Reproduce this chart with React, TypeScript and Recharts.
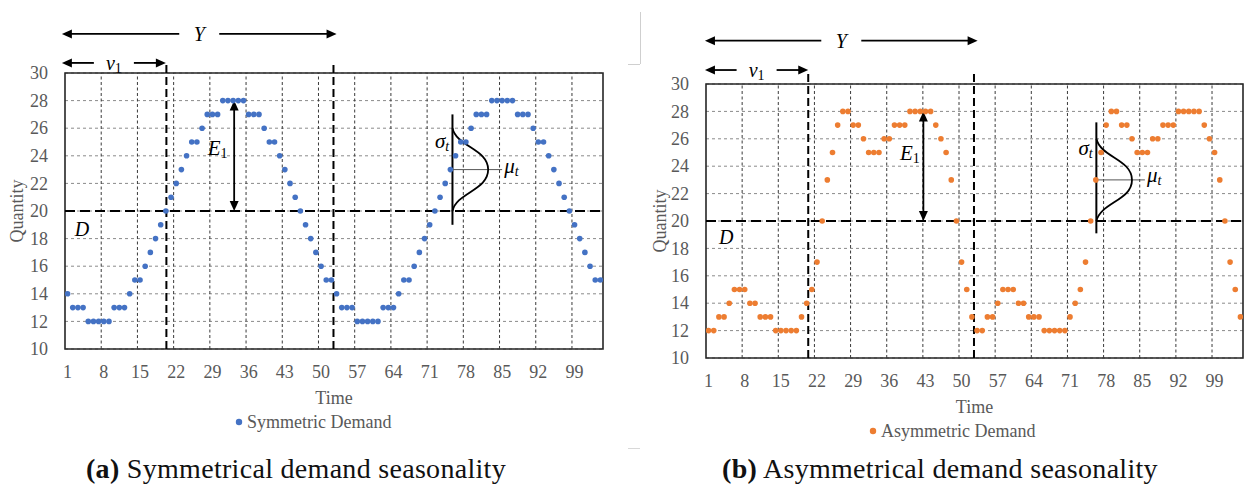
import React from 'react';
import {
  ScatterChart,
  Scatter,
  XAxis,
  YAxis,
  CartesianGrid,
  ReferenceLine,
  ReferenceArea,
  ReferenceDot,
  Legend,
} from 'recharts';

// ---------------- DATA ----------------
const timePeriods = [
  1, 2, 3, 4, 5, 6, 7, 8, 9, 10, 11, 12, 13, 14, 15, 16, 17, 18, 19, 20,
  21, 22, 23, 24, 25, 26, 27, 28, 29, 30, 31, 32, 33, 34, 35, 36, 37, 38, 39, 40,
  41, 42, 43, 44, 45, 46, 47, 48, 49, 50, 51, 52, 53, 54, 55, 56, 57, 58, 59, 60,
  61, 62, 63, 64, 65, 66, 67, 68, 69, 70, 71, 72, 73, 74, 75, 76, 77, 78, 79, 80,
  81, 82, 83, 84, 85, 86, 87, 88, 89, 90, 91, 92, 93, 94, 95, 96, 97, 98, 99, 100,
  101, 102, 103, 104,
];

const symmetricDemand = [
  14, 13, 13, 13, 12, 12, 12, 12, 12, 13, 13, 13, 14, 15, 15, 16, 17, 18, 19, 20,
  21, 22, 23, 24, 25, 25, 26, 27, 27, 27, 28, 28, 28, 28, 28, 27, 27, 27, 26, 25,
  25, 24, 23, 22, 21, 20, 19, 18, 17, 16, 15, 15,
  14, 13, 13, 13, 12, 12, 12, 12, 12, 13, 13, 13, 14, 15, 15, 16, 17, 18, 19, 20,
  21, 22, 23, 24, 25, 25, 26, 27, 27, 27, 28, 28, 28, 28, 28, 27, 27, 27, 26, 25,
  25, 24, 23, 22, 21, 20, 19, 18, 17, 16, 15, 15,
];

const asymmetricDemand = [
  12, 12, 13, 13, 14, 15, 15, 15, 14, 14, 13, 13, 13, 12, 12, 12, 12, 12, 13, 14,
  15, 17, 20, 23, 25, 27, 28, 28, 27, 27, 26, 25, 25, 25, 26, 26, 27, 27, 27, 28,
  28, 28, 28, 28, 27, 26, 25, 23, 20, 17, 15, 13,
  12, 12, 13, 13, 14, 15, 15, 15, 14, 14, 13, 13, 13, 12, 12, 12, 12, 12, 13, 14,
  15, 17, 20, 23, 25, 27, 28, 28, 27, 27, 26, 25, 25, 25, 26, 26, 27, 27, 27, 28,
  28, 28, 28, 28, 27, 26, 25, 23, 20, 17, 15, 13,
];

const xTickLabels = [1, 8, 15, 22, 29, 36, 43, 50, 57, 64, 71, 78, 85, 92, 99];
const yTickLabels = [10, 12, 14, 16, 18, 20, 22, 24, 26, 28, 30];
const categoryGridLines = [7.5, 14.5, 21.5, 28.5, 35.5, 42.5, 49.5, 56.5, 63.5, 70.5, 77.5, 84.5, 91.5, 98.5];

// ---------------- STYLE ----------------
const FONT = '"Liberation Serif", "Times New Roman", serif';
const TEXT_GRAY = '#595959';

type Anno = {
  yArrow: [number, number, number];
  vArrow: [number, number, number];
  dashedX: [number, number];
  dashedTop: number;
  e1X: number;
  e1Label: [number, number];
  dLabel: [number, number];
  bellX: number;
  bellPeak: number;
  bellTop: number;
  bellBottom: number;
  muLineEnd: number;
  sigmaLabel: [number, number];
  muLabel: [number, number];
};

const arrowHead = (tx: number, ty: number, ux: number, uy: number) => {
  const L = 10;
  const W = 4.5;
  const bx = tx - ux * L;
  const by = ty - uy * L;
  const px = -uy * W;
  const py = ux * W;
  return `${tx},${ty} ${bx + px},${by + py} ${bx - px},${by - py}`;
};

const doubleArrowShape = (label?: React.ReactNode, gap = 0) => (p: any) => {
  const { x1, y1, x2, y2 } = p;
  const len = Math.hypot(x2 - x1, y2 - y1) || 1;
  const ux = (x2 - x1) / len;
  const uy = (y2 - y1) / len;
  const mx = (x1 + x2) / 2;
  const my = (y1 + y2) / 2;
  const L = 8;
  const segs =
    gap > 0
      ? [
          [x1 + ux * L, y1 + uy * L, mx - ux * gap, my - uy * gap],
          [mx + ux * gap, my + uy * gap, x2 - ux * L, y2 - uy * L],
        ]
      : [[x1 + ux * L, y1 + uy * L, x2 - ux * L, y2 - uy * L]];
  return (
    <g>
      {segs.map((s, i) => (
        <line key={i} x1={s[0]} y1={s[1]} x2={s[2]} y2={s[3]} stroke="#000" strokeWidth={1.8} />
      ))}
      <polygon points={arrowHead(x1, y1, -ux, -uy)} fill="#000" />
      <polygon points={arrowHead(x2, y2, ux, uy)} fill="#000" />
      {label ? (
        <text
          x={mx}
          y={my}
          textAnchor="middle"
          dominantBaseline="central"
          fontFamily={FONT}
          fontSize={20}
          fill="#000"
        >
          {label}
        </text>
      ) : null}
    </g>
  );
};

const bellShape = (p: any) => {
  const { x1, y1, x2, y2 } = p;
  const w = x2 - x1;
  const h = (y2 - y1) / 2;
  const ym = (y1 + y2) / 2;
  const d =
    `M${x1},${y1} ` +
    `C${x1 + 0.12 * w},${y1 + 0.45 * h} ${x2},${ym - 0.5 * h} ${x2},${ym} ` +
    `C${x2},${ym + 0.5 * h} ${x1 + 0.12 * w},${y2 - 0.45 * h} ${x1},${y2}`;
  return <path d={d} fill="none" stroke="#000" strokeWidth={1.8} />;
};

const textShape = (content: React.ReactNode, size = 20) => (p: any) => (
  <text
    x={p.cx}
    y={p.cy}
    textAnchor="middle"
    dominantBaseline="central"
    fontFamily={FONT}
    fontSize={size}
    fill="#000"
  >
    {content}
  </text>
);

const it = (s: string) => <tspan fontStyle="italic">{s}</tspan>;
const sub = (s: string, italic = false) => (
  <tspan fontSize={14} dy={5} fontStyle={italic ? 'italic' : 'normal'}>
    {s}
  </tspan>
);

const XTick = (p: any) => (
  <text x={p.x} y={p.y} dy="0.71em" textAnchor="middle" fontFamily={FONT} fontSize={18} fill={TEXT_GRAY}>
    {p.payload.value}
  </text>
);

const YTick = (p: any) => (
  <text x={p.x} y={p.y} dy="0.34em" textAnchor="end" fontFamily={FONT} fontSize={18} fill={TEXT_GRAY}>
    {p.payload.value}
  </text>
);

type PanelProps = {
  values: number[];
  color: string;
  name: string;
  width: number;
  height: number;
  top: number;
  right: number;
  yAxisWidth: number;
  quantityX: number;
  legendDotX: number;
  anno: Anno;
};

function Panel(props: PanelProps) {
  const { values, color, name, width, height, top, right, yAxisWidth, quantityX, legendDotX, anno } = props;
  const data = timePeriods.map((t, i) => ({ time: t, quantity: values[i] }));
  return (
    <ScatterChart width={width} height={height} margin={{ top, right, left: 0, bottom: 8 }}>
      <CartesianGrid vertical={false} stroke="#8a8a8a" strokeDasharray="3 3" />
      {categoryGridLines.map((x) => (
        <ReferenceLine key={x} x={x} stroke="#3a3a3a" strokeDasharray="3 2.5" strokeWidth={1} />
      ))}
      <XAxis
        type="number"
        dataKey="time"
        domain={[0.5, 104.5]}
        ticks={xTickLabels}
        interval={0}
        tickLine={false}
        axisLine={false}
        tickSize={0}
        tickMargin={16}
        height={63}
        tick={XTick}
        allowDataOverflow
        label={{
          value: 'Time',
          position: 'insideBottom',
          content: (lp: any) => {
            const vb = lp.viewBox || {};
            return (
              <text
                x={vb.x + vb.width / 2}
                y={vb.y + vb.height - 8}
                textAnchor="middle"
                fontFamily={FONT}
                fontSize={18}
                fill={TEXT_GRAY}
              >
                Time
              </text>
            );
          },
        }}
      />
      <YAxis
        type="number"
        dataKey="quantity"
        domain={[10, 30]}
        ticks={yTickLabels}
        interval={0}
        tickLine={false}
        axisLine={false}
        tickSize={0}
        tickMargin={17}
        width={yAxisWidth}
        tick={YTick}
        allowDataOverflow
        label={{
          value: 'Quantity',
          position: 'insideLeft',
          content: (lp: any) => {
            const vb = lp.viewBox || {};
            const cx = vb.x + quantityX;
            const cy = vb.y + vb.height / 2;
            return (
              <text
                x={cx}
                y={cy}
                dy="0.34em"
                transform={`rotate(-90, ${cx}, ${cy})`}
                textAnchor="middle"
                fontFamily={FONT}
                fontSize={18}
                fill={TEXT_GRAY}
              >
                Quantity
              </text>
            );
          },
        }}
      />
      <ReferenceArea
        x1={0.5}
        x2={104.5}
        y1={10}
        y2={30}
        fill="none"
        fillOpacity={0}
        stroke="#262626"
        strokeWidth={1.6}
        ifOverflow="visible"
      />
      {/* baseline demand D */}
      <ReferenceLine y={20} stroke="#000" strokeWidth={2.2} strokeDasharray="10 5" />
      {/* season boundaries */}
      {anno.dashedX.map((x) => (
        <ReferenceLine
          key={'d' + x}
          segment={[
            { x, y: 10 },
            { x, y: anno.dashedTop },
          ]}
          stroke="#000"
          strokeWidth={2}
          strokeDasharray="8 4"
          ifOverflow="visible"
        />
      ))}
      {/* Y arrow */}
      <ReferenceLine
        segment={[
          { x: anno.yArrow[0], y: anno.yArrow[2] },
          { x: anno.yArrow[1], y: anno.yArrow[2] },
        ]}
        ifOverflow="visible"
        shape={doubleArrowShape(it('Y'), 20)}
      />
      {/* v1 arrow */}
      <ReferenceLine
        segment={[
          { x: anno.vArrow[0], y: anno.vArrow[2] },
          { x: anno.vArrow[1], y: anno.vArrow[2] },
        ]}
        ifOverflow="visible"
        shape={doubleArrowShape(
          <>
            {it('v')}
            {sub('1')}
          </>,
          20,
        )}
      />
      {/* E1 arrow */}
      <ReferenceLine
        segment={[
          { x: anno.e1X, y: 28 },
          { x: anno.e1X, y: 20 },
        ]}
        ifOverflow="visible"
        shape={doubleArrowShape()}
      />
      <ReferenceDot
        x={anno.e1Label[0]}
        y={anno.e1Label[1]}
        r={0}
        ifOverflow="visible"
        shape={textShape(
          <>
            {it('E')}
            {sub('1')}
          </>,
          21,
        )}
      />
      <ReferenceDot x={anno.dLabel[0]} y={anno.dLabel[1]} r={0} ifOverflow="visible" shape={textShape(it('D'), 20)} />
      {/* normal distribution sketch */}
      <ReferenceLine
        segment={[
          { x: anno.bellX, y: anno.bellTop },
          { x: anno.bellX, y: anno.bellBottom },
        ]}
        stroke="#000"
        strokeWidth={2}
        ifOverflow="visible"
      />
      <ReferenceLine
        segment={[
          { x: anno.bellX, y: 23 },
          { x: anno.muLineEnd, y: 23 },
        ]}
        stroke="#555"
        strokeWidth={1}
        ifOverflow="visible"
      />
      <ReferenceLine
        segment={[
          { x: anno.bellX, y: 26 },
          { x: anno.bellPeak, y: 20 },
        ]}
        ifOverflow="visible"
        shape={bellShape}
      />
      <ReferenceDot
        x={anno.sigmaLabel[0]}
        y={anno.sigmaLabel[1]}
        r={0}
        ifOverflow="visible"
        shape={textShape(
          <>
            {it('σ')}
            {sub('t', true)}
          </>,
          21,
        )}
      />
      <ReferenceDot
        x={anno.muLabel[0]}
        y={anno.muLabel[1]}
        r={0}
        ifOverflow="visible"
        shape={textShape(
          <>
            {it('μ')}
            {sub('t', true)}
          </>,
          21,
        )}
      />
      <Scatter
        data={data}
        name={name}
        fill={color}
        isAnimationActive={false}
        shape={(p: any) => <circle cx={p.cx} cy={p.cy} r={2.8} fill={color} />}
      />
      <Legend
        verticalAlign="bottom"
        align="left"
        content={() => (
          <div
            style={{
              position: 'relative',
              height: 20,
              lineHeight: '20px',
              fontFamily: FONT,
              fontSize: 18,
              color: TEXT_GRAY,
              whiteSpace: 'nowrap',
            }}
          >
            <svg width={8} height={8} style={{ position: 'absolute', left: legendDotX - 4, top: 6 }}>
              <circle cx={4} cy={4} r={3.2} fill={color} />
            </svg>
            <span style={{ position: 'absolute', left: legendDotX + 8, top: 0 }}>{name}</span>
          </div>
        )}
      />
    </ScatterChart>
  );
}

const leftAnno: Anno = {
  yArrow: [-0.1, 53.0, 32.83],
  vArrow: [-0.1, 20.0, 30.73],
  dashedX: [20.1, 52.4],
  dashedTop: 30.8,
  e1X: 33.2,
  e1Label: [30, 24.6],
  dLabel: [3.8, 18.7],
  bellX: 75.4,
  bellPeak: 82.3,
  bellTop: 27,
  bellBottom: 19,
  muLineEnd: 85,
  sigmaLabel: [73.4, 25.1],
  muLabel: [86.8, 23.25],
};

const rightAnno: Anno = {
  yArrow: [0.3, 53.1, 33.16],
  vArrow: [0.3, 20.3, 31.02],
  dashedX: [20.3, 52.4],
  dashedTop: 30.9,
  e1X: 42.6,
  e1Label: [40, 24.96],
  dLabel: [4.4, 18.8],
  bellX: 76.1,
  bellPeak: 83,
  bellTop: 27.2,
  bellBottom: 19.1,
  muLineEnd: 85.5,
  sigmaLabel: [74, 25.35],
  muLabel: [87.3, 23.35],
};

export default function App() {
  return (
    <div
      style={{
        position: 'fixed',
        left: 0,
        top: 0,
        width: 1248,
        height: 492,
        background: '#fff',
        overflow: 'hidden',
        fontFamily: FONT,
      }}
    >
      <div style={{ position: 'absolute', left: 0, top: 0 }}>
        <Panel
          values={symmetricDemand}
          color="#4472C4"
          name="Symmetric Demand"
          width={640}
          height={440}
          top={73}
          right={37}
          yAxisWidth={65}
          quantityX={17}
          legendDotX={239}
          anno={leftAnno}
        />
      </div>
      <div style={{ position: 'absolute', left: 640, top: 0 }}>
        <Panel
          values={asymmetricDemand}
          color="#ED7D31"
          name="Asymmetric Demand"
          width={608}
          height={449}
          top={84}
          right={5}
          yAxisWidth={66}
          quantityX={20}
          legendDotX={233}
          anno={rightAnno}
        />
      </div>
      {/* faint separators from the composite figure */}
      <div style={{ position: 'absolute', left: 640, top: 12, width: 1, height: 52, background: '#cfcfcf' }} />
      <div style={{ position: 'absolute', left: 628, top: 64, width: 12, height: 1, background: '#cfcfcf' }} />
      <div style={{ position: 'absolute', left: 628, top: 448, width: 12, height: 1, background: '#d8d8d8' }} />
      <svg width={1248} height={492} style={{ position: 'absolute', left: 0, top: 0, pointerEvents: 'none' }}>
        <text x={296} y={478} textAnchor="middle" fontFamily={FONT} fontSize={28} fill="#111" letterSpacing={0.3}>
          <tspan fontWeight="bold">(a)</tspan> Symmetrical demand seasonality
        </text>
        <text x={940} y={478} textAnchor="middle" fontFamily={FONT} fontSize={28} fill="#111" letterSpacing={0.3}>
          <tspan fontWeight="bold">(b)</tspan> Asymmetrical demand seasonality
        </text>
      </svg>
    </div>
  );
}
